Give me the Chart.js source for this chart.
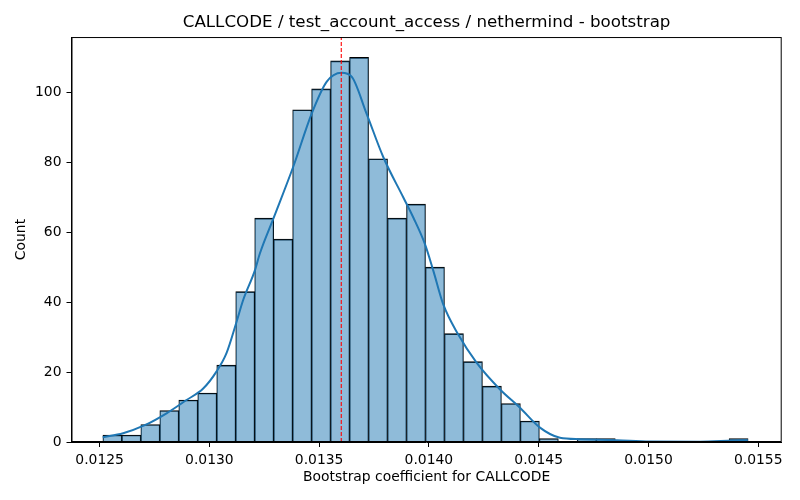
<!DOCTYPE html>
<html>
<head>
<meta charset="utf-8">
<script src="https://cdn.jsdelivr.net/npm/chart.js@4/dist/chart.umd.min.js"></script>
<style>
  html, body { margin: 0; padding: 0; background: #fff; }
  #wrap { width: 800px; height: 500px; }
</style>
</head>
<body>
<div id="wrap"><canvas id="grafico" width="800" height="500"></canvas></div>
<script>
// histogram bins (left edge of first bin and bin width), counts per bin
const binStart = 0.012515;
const binWidth = 0.00008644;
const counts = [2, 2, 5, 9, 12, 14, 22, 43, 64, 58,
                95, 101, 109, 110, 81, 64, 68, 50, 31, 23,
                16, 11, 6, 1, 0, 1, 1, 0, 0, 0,
                0, 0, 0, 1];

// kde curve
const kdeX = [0.012514, 0.012607, 0.012706, 0.012805, 0.012896, 0.012972, 0.013033, 0.013078,
              0.013124, 0.013154, 0.013207, 0.013230, 0.013291, 0.013382, 0.013466, 0.013534,
              0.013602, 0.013648, 0.013716, 0.013792, 0.013883, 0.013929, 0.013982, 0.014020,
              0.014065, 0.014133, 0.014217, 0.014323, 0.014415, 0.014506, 0.014597, 0.014688,
              0.014856, 0.015007, 0.015235, 0.015385, 0.015453];
const kdeY = [1.35, 2.5, 4.8, 8.2, 12, 15.3, 20.2, 25.4,
              34.4, 40.6, 49, 53.9, 63.8, 78.7, 93.9, 103,
              105.6, 104.5, 93.9, 81.5, 70, 64.2, 56.6, 49,
              39.4, 30.8, 22.7, 15.1, 9.8, 4.1, 1.2, 0.8,
              0.5, 0.15, 0.1, 0.4, 0.5];

const meanValue = 0.013601;

const xTicks = [0.0125, 0.0130, 0.0135, 0.0140, 0.0145, 0.0150, 0.0155];
const xTickLabels = ['0.0125', '0.0130', '0.0135', '0.0140', '0.0145', '0.0150', '0.0155'];
const yTicks = [0, 20, 40, 60, 80, 100];
const xMin = 0.012372, xMax = 0.015607;
const yMin = 0, yMax = 115.8;

const titulo = 'CALLCODE / test_account_access / nethermind - bootstrap';
const xLabel = 'Bootstrap coefficient for CALLCODE';
const yLabel = 'Count';

const fonte = "'DejaVu Sans', sans-serif";

const barras = counts.map((c, i) => ({ x: binStart + binWidth * (i + 0.5), y: c }));
const kde = kdeX.map((x, i) => ({ x: x, y: kdeY[i] }));
const linhaMedia = [{ x: meanValue, y: yMin }, { x: meanValue, y: yMax }];

// moldura (top / right spines)
const moldura = {
    id: 'moldura',
    afterDraw(chart) {
        const a = chart.chartArea;
        const ctx = chart.ctx;
        ctx.save();
        ctx.strokeStyle = '#000';
        ctx.lineWidth = 1;
        ctx.strokeRect(a.left + 0.5, a.top + 0.5, a.right - a.left - 1, a.bottom - a.top - 1);
        ctx.restore();
    }
};

const ctx = document.getElementById('grafico').getContext('2d');
new Chart(ctx, {
    type: 'bar',
    data: {
        datasets: [
            {
                type: 'line',
                data: linhaMedia,
                borderColor: 'rgba(255, 0, 0, 0.85)',
                borderWidth: 1.3,
                borderDash: [4, 2],
                pointRadius: 0,
                order: 1
            },
            {
                type: 'line',
                data: kde,
                borderColor: '#1f77b4',
                borderWidth: 2,
                pointRadius: 0,
                cubicInterpolationMode: 'monotone',
                fill: false,
                order: 2
            },
            {
                type: 'bar',
                data: barras,
                backgroundColor: 'rgba(31, 119, 180, 0.5)',
                borderColor: '#000',
                borderWidth: { top: 1, left: 0.6, right: 0.6, bottom: 0 },
                borderSkipped: false,
                barPercentage: 1,
                categoryPercentage: 1,
                order: 3
            }
        ]
    },
    options: {
        responsive: false,
        animation: false,
        devicePixelRatio: 1,
        layout: { padding: { left: 0, right: 18.3, top: 0, bottom: 10.6 } },
        plugins: {
            legend: { display: false },
            tooltip: { enabled: false },
            title: {
                display: true,
                fullSize: false,
                text: titulo,
                color: '#000',
                font: { family: fonte, size: 16.7, weight: 'normal' },
                padding: { top: 13, bottom: 4 }
            }
        },
        scales: {
            x: {
                type: 'linear',
                min: xMin,
                max: xMax,
                offset: false,
                afterBuildTicks: s => { s.ticks = xTicks.map(v => ({ value: v })); },
                afterFit: s => { s.height = 47.4; },
                ticks: {
                    color: '#000',
                    font: { family: fonte, size: 13.9 },
                    padding: 5,
                    maxRotation: 0,
                    autoSkip: false,
                    callback: (v, i) => xTickLabels[i]
                },
                grid: { display: true, drawOnChartArea: false, drawTicks: true, tickLength: 5, color: '#000', offset: false },
                border: { display: true, color: '#000', width: 1 },
                title: {
                    display: true,
                    text: xLabel,
                    color: '#000',
                    font: { family: fonte, size: 13.9 },
                    padding: { top: 0, bottom: 4 }
                }
            },
            y: {
                type: 'linear',
                min: yMin,
                max: yMax,
                afterBuildTicks: s => { s.ticks = yTicks.map(v => ({ value: v })); },
                afterFit: s => { s.width = 71.5; },
                ticks: {
                    color: '#000',
                    font: { family: fonte, size: 13.9 },
                    padding: 5,
                    callback: v => String(v)
                },
                grid: { display: true, drawOnChartArea: false, drawTicks: true, tickLength: 5, color: '#000' },
                border: { display: true, color: '#000', width: 1 },
                title: {
                    display: true,
                    text: yLabel,
                    color: '#000',
                    font: { family: fonte, size: 13.9 },
                    padding: { top: 12.6, bottom: 0 }
                }
            }
        }
    },
    plugins: [moldura]
});
</script>
</body>
</html>
